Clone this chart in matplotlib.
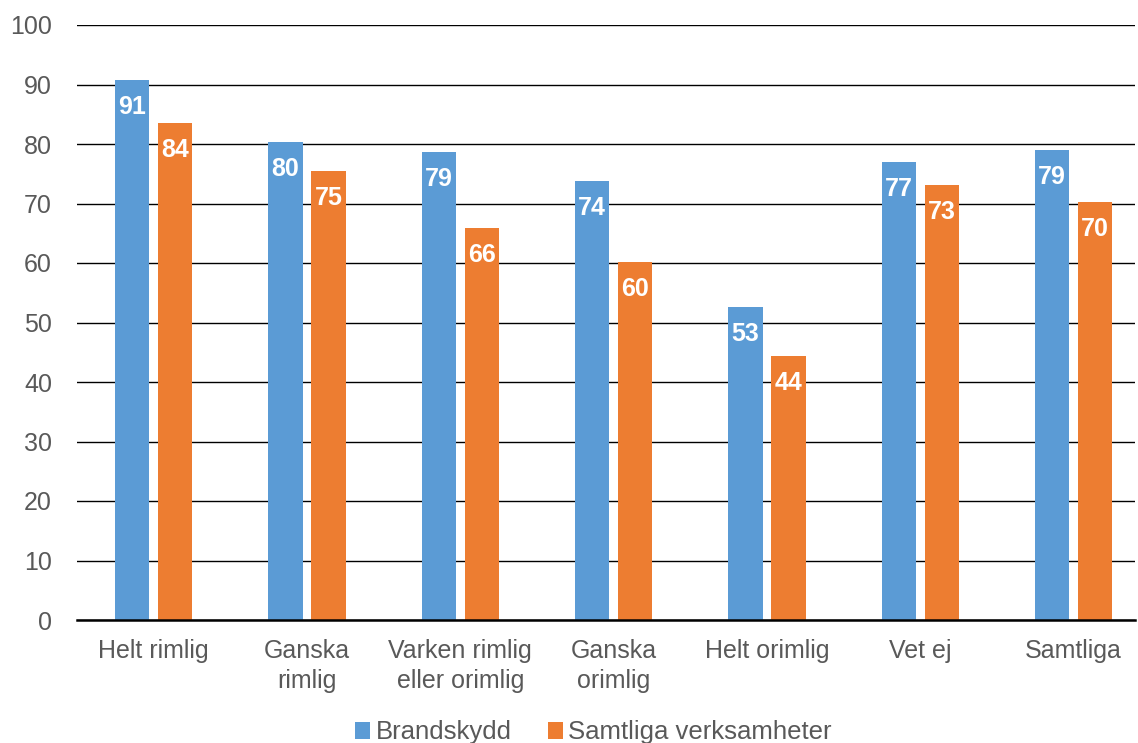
import matplotlib.pyplot as plt
import numpy as np

plt.rcParams["font.family"] = ["Liberation Sans", "DejaVu Sans"]

categories = ["Helt rimlig", "Ganska\nrimlig", "Varken rimlig\neller orimlig",
              "Ganska\norimlig", "Helt orimlig", "Vet ej", "Samtliga"]
brandskydd = [90.8, 80.3, 78.7, 73.8, 52.6, 77.0, 79.0]
samtliga = [83.5, 75.4, 65.9, 60.2, 44.4, 73.1, 70.3]
series_names = ["Brandskydd", "Samtliga verksamheter"]

BLUE = "#5B9BD5"
ORANGE = "#ED7D31"
GREY = "#595959"

fig = plt.figure(figsize=(11.38, 7.43), dpi=100)
ax = fig.add_axes([77 / 1138, 1 - 620 / 743, 1058 / 1138, 595 / 743])

x = np.arange(len(categories))
w = 0.225
b1 = ax.bar(x - 0.14, brandskydd, w, color=BLUE, label=series_names[0], zorder=2)
b2 = ax.bar(x + 0.14, samtliga, w, color=ORANGE, label=series_names[1], zorder=2)

for bars, vals in ((b1, brandskydd), (b2, samtliga)):
    for rect, v in zip(bars, vals):
        ax.annotate(f"{v:.0f}", (rect.get_x() + rect.get_width() / 2, v),
                    xytext=(0, -27), textcoords="offset pixels",
                    ha="center", va="center", color="white",
                    fontsize=18, fontweight="bold", zorder=3)

ax.set_xlim(-0.5, len(categories) - 0.6)
ax.set_ylim(0, 100)
ax.set_yticks(range(0, 101, 10))
ax.yaxis.grid(True, color="black", linewidth=1.0, zorder=0)
ax.set_axisbelow(True)

for side in ("left", "right", "top"):
    ax.spines[side].set_visible(False)
ax.spines["bottom"].set_color("black")
ax.spines["bottom"].set_linewidth(1.8)
ax.spines["bottom"].set_zorder(4)

ax.tick_params(axis="both", length=0, labelsize=18, labelcolor=GREY)
ax.tick_params(axis="y", pad=18)
ax.tick_params(axis="x", pad=14)
ax.set_xticks(x)
ax.set_xticklabels(categories, linespacing=1.3)
for lbl in ax.get_yticklabels():
    lbl.set_horizontalalignment("right")

ax.legend(loc="lower center", bbox_to_anchor=(0.488, -0.248), ncol=2,
          frameon=False, fontsize=18.5, labelcolor=GREY, handlelength=0.6,
          handleheight=0.6, handletextpad=0.2, columnspacing=1.4)

fig.savefig("out.png", dpi=100)
